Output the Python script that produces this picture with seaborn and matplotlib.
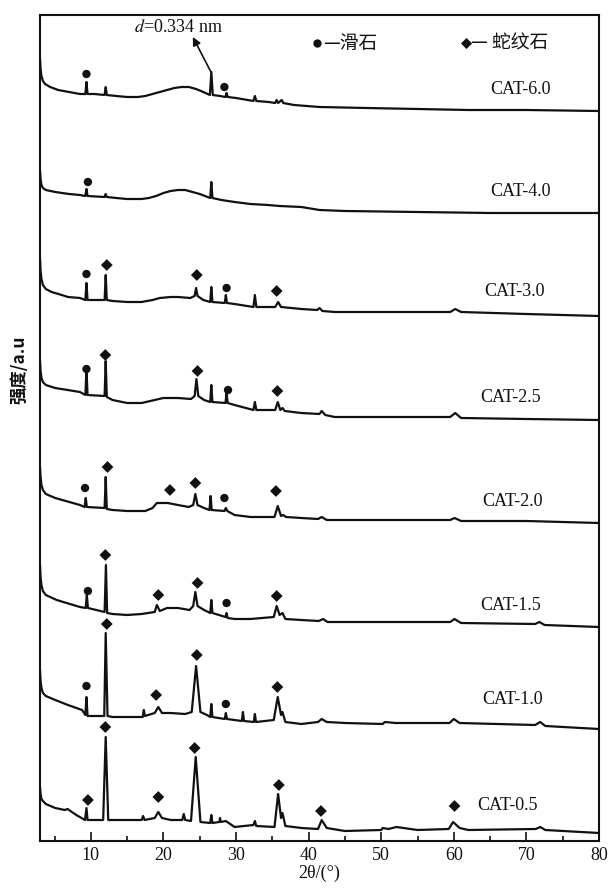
import matplotlib
matplotlib.use("Agg")
import matplotlib.pyplot as plt
import pandas as pd
import seaborn as sns

# ---------------------------------------------------------------------------
# XRD patterns (2θ in degrees, stacked intensity in a.u.)
# ---------------------------------------------------------------------------
samples = ["CAT-6.0", "CAT-4.0", "CAT-3.0", "CAT-2.5",
           "CAT-2.0", "CAT-1.5", "CAT-1.0", "CAT-0.5"]

pat_60 = [(3.0, 783), (3.08, 772), (3.2, 765), (3.4, 760), (3.7, 757), (4.4, 754),
          (5.5, 751), (7.0, 749), (8.5, 747), (9.25, 747), (9.4, 759), (9.55, 747),
          (10.5, 747), (11.9, 746), (12.05, 754), (12.2, 746), (13.5, 745), (15.0, 744),
          (16.5, 744), (17.5, 745), (18.5, 747), (19.5, 749), (20.5, 751), (21.5, 753),
          (22.5, 754), (23.5, 754), (24.5, 752), (25.5, 749), (26.4, 746), (26.6, 769),
          (26.8, 746), (27.8, 745), (28.55, 744), (28.7, 748), (28.85, 744), (30.0, 743),
          (32.4, 740), (32.6, 745), (32.8, 740), (34.5, 739), (35.4, 738), (35.6, 741),
          (35.8, 738), (36.3, 741), (36.5, 738), (38.0, 736), (41.5, 734), (48.0, 733),
          (55.0, 732), (62.0, 731), (70.0, 731), (80.0, 730)]

pat_40 = [(3.0, 671), (3.08, 662), (3.2, 656), (3.4, 653), (3.8, 651), (5.1, 649),
          (7.0, 647), (8.5, 646), (9.25, 645), (9.4, 652), (9.55, 645), (11.9, 644),
          (12.05, 647), (12.2, 644), (13.5, 643), (15.0, 642), (17.0, 642), (18.0, 643),
          (19.0, 645), (20.0, 648), (21.0, 650), (22.0, 651), (23.0, 651), (24.0, 649),
          (25.0, 647), (26.45, 643), (26.6, 659), (26.75, 643), (28.0, 641), (29.8, 639),
          (32.0, 637), (34.4, 636), (36.0, 635), (39.0, 634), (41.5, 631), (45.0, 630),
          (55.0, 629), (65.0, 628), (80.0, 628)]

pat_30 = [(3.0, 583), (3.08, 570), (3.2, 562), (3.4, 556), (3.8, 552), (4.6, 549),
          (6.0, 546), (6.85, 544), (8.5, 543), (9.25, 541), (9.4, 558), (9.55, 541),
          (11.9, 541), (12.05, 566), (12.2, 541), (13.0, 540), (15.0, 539), (17.0, 539),
          (18.5, 541), (19.5, 543), (21.0, 544), (22.0, 544), (23.7, 543), (24.3, 545),
          (24.5, 553), (24.7, 545), (25.5, 541), (26.45, 539), (26.6, 554), (26.75, 539),
          (28.45, 538), (28.6, 546), (28.75, 538), (29.8, 537), (32.4, 534), (32.6, 546),
          (32.8, 534), (35.4, 534), (35.8, 539), (36.2, 534), (39.0, 532), (41.2, 531),
          (41.5, 533), (41.9, 530), (43.6, 529), (50.0, 529), (59.5, 529), (60.2, 532),
          (61.0, 529), (70.0, 527), (80.0, 525)]

pat_25 = [(3.0, 481), (3.08, 470), (3.2, 463), (3.4, 459), (3.8, 456), (5.1, 453),
          (8.5, 449), (9.25, 446), (9.4, 472), (9.55, 446), (11.9, 445), (12.05, 480),
          (12.2, 444), (13.0, 441), (15.0, 438), (17.0, 438), (18.8, 441), (20.0, 443),
          (22.0, 443), (23.8, 442), (24.3, 445), (24.55, 462), (24.8, 445), (25.6, 441),
          (26.45, 439), (26.6, 456), (26.75, 439), (28.55, 438), (28.7, 448), (28.85, 438),
          (29.8, 436), (32.4, 431), (32.6, 439), (32.8, 431), (35.4, 431), (35.75, 439),
          (36.1, 431), (36.4, 433), (36.7, 430), (39.0, 428), (41.5, 427), (41.8, 430),
          (42.3, 426), (43.6, 424), (50.0, 424), (59.5, 424), (60.2, 428), (61.0, 423),
          (70.0, 422), (80.0, 421)]

pat_20 = [(3.0, 374), (3.08, 364), (3.2, 356), (3.4, 351), (3.8, 347), (5.1, 343),
          (8.5, 336), (9.15, 334), (9.3, 343), (9.45, 334), (11.9, 333), (12.05, 364),
          (12.2, 332), (13.0, 331), (15.0, 330), (17.5, 330), (18.5, 333), (19.1, 338),
          (20.6, 338), (22.0, 336), (23.5, 334), (24.1, 336), (24.4, 347), (24.7, 336),
          (25.6, 333), (26.35, 331), (26.5, 345), (26.65, 331), (28.4, 330), (28.6, 333),
          (28.8, 330), (29.8, 326), (32.0, 324), (35.3, 324), (35.75, 335), (36.2, 325),
          (36.5, 326), (36.9, 324), (39.0, 323), (41.3, 322), (41.8, 324), (42.5, 321),
          (45.0, 321), (52.0, 321), (59.5, 321), (60.1, 323), (61.0, 320), (70.0, 320),
          (80.0, 318)]

pat_15 = [(3.0, 276), (3.08, 264), (3.2, 256), (3.4, 250), (3.8, 246), (5.3, 241),
          (8.5, 234), (9.3, 233), (9.45, 246), (9.6, 233), (11.9, 229), (12.08, 276),
          (12.25, 228), (13.0, 227), (15.0, 226), (17.0, 227), (18.8, 229), (19.1, 236),
          (19.5, 230), (20.5, 233), (22.0, 233), (23.6, 231), (24.1, 235), (24.4, 249),
          (24.7, 235), (25.6, 231), (26.45, 228), (26.6, 241), (26.75, 228), (28.55, 224),
          (28.7, 228), (28.85, 223), (29.8, 222), (32.0, 222), (35.2, 224), (35.6, 235),
          (36.0, 226), (36.4, 228), (36.8, 222), (39.0, 221), (41.4, 220), (42.0, 222),
          (42.6, 219), (45.0, 219), (52.5, 219), (59.5, 219), (60.1, 222), (61.0, 218),
          (71.2, 217), (71.8, 219), (72.5, 216), (80.0, 214)]

pat_10 = [(3.0, 171), (3.08, 160), (3.2, 153), (3.4, 148), (3.8, 145), (5.1, 141),
          (6.85, 136), (8.8, 131), (9.25, 126), (9.4, 144), (9.55, 125), (11.85, 125),
          (12.05, 208), (12.3, 125), (13.0, 124), (16.0, 124), (17.15, 124), (17.3, 131),
          (17.45, 125), (18.8, 128), (19.3, 134), (19.8, 128), (21.0, 128), (23.0, 127),
          (23.9, 129), (24.5, 175), (25.1, 129), (26.0, 126), (26.45, 124), (26.6, 137),
          (26.75, 124), (28.45, 122), (28.6, 128), (28.75, 122), (30.8, 120), (30.95, 129),
          (31.1, 120), (32.45, 119), (32.6, 127), (32.75, 119), (35.2, 121), (35.75, 144),
          (36.2, 126), (36.4, 129), (36.8, 119), (39.0, 117), (41.3, 119), (41.8, 122),
          (42.5, 119), (45.0, 118), (50.2, 117), (50.5, 119), (52.0, 118), (55.0, 118),
          (59.4, 118), (60.0, 122), (60.8, 118), (71.2, 116), (71.9, 119), (72.6, 115),
          (80.0, 112)]

pat_05 = [(3.0, 54), (3.08, 47), (3.2, 42), (3.4, 40), (3.8, 37), (5.1, 33), (6.4, 31),
          (6.8, 32), (8.0, 26), (9.2, 21), (9.4, 33), (9.55, 21), (11.7, 21), (12.05, 104),
          (12.4, 21), (13.5, 21), (17.0, 21), (17.2, 25), (17.4, 21), (18.8, 23), (19.3, 29),
          (19.8, 23), (21.0, 21), (22.6, 21), (22.8, 27), (23.0, 21), (23.8, 20), (24.45, 84),
          (25.1, 19), (26.45, 18), (26.6, 26), (26.75, 18), (27.7, 19), (27.8, 23), (27.9, 19),
          (28.6, 20), (29.8, 14), (32.4, 16), (32.6, 20), (32.8, 15), (35.3, 14), (35.8, 47),
          (36.2, 23), (36.4, 28), (36.8, 15), (39.0, 13), (41.3, 12), (41.8, 21), (42.5, 13),
          (45.0, 10), (50.0, 11), (50.2, 13), (51.0, 12), (52.1, 14), (55.0, 11), (59.3, 12),
          (59.9, 19), (60.8, 13), (62.0, 11), (71.3, 12), (71.9, 14), (72.6, 11), (80.0, 8)]

patterns = [pat_60, pat_40, pat_30, pat_25, pat_20, pat_15, pat_10, pat_05]

# Phase assignments: (2θ, marker height) for talc (滑石) and serpentine (蛇纹石)
talc_marks = {
    "CAT-6.0": [(9.4, 767), (28.4, 754)],
    "CAT-4.0": [(9.6, 659)],
    "CAT-3.0": [(9.4, 567), (28.7, 553)],
    "CAT-2.5": [(9.4, 472), (28.9, 451)],
    "CAT-2.0": [(9.2, 353), (28.4, 343)],
    "CAT-1.5": [(9.6, 250), (28.7, 238)],
    "CAT-1.0": [(9.4, 155), (28.6, 137)],
}
serp_marks = {
    "CAT-3.0": [(12.2, 576), (24.6, 566), (35.6, 550)],
    "CAT-2.5": [(12.0, 486), (24.7, 470), (35.7, 450)],
    "CAT-2.0": [(12.3, 374), (20.9, 351), (24.4, 358), (35.5, 350)],
    "CAT-1.5": [(12.0, 286), (19.3, 246), (24.7, 258), (35.6, 245)],
    "CAT-1.0": [(12.2, 217), (19.0, 146), (24.6, 186), (35.7, 154)],
    "CAT-0.5": [(9.6, 41), (12.0, 114), (19.3, 44), (24.3, 93), (35.9, 56),
                (41.7, 30), (60.1, 35)],
}
phase_names = ["滑石", "蛇纹石"]

x_ticks = [10, 20, 30, 40, 50, 60, 70, 80]

# ---------------------------------------------------------------------------
# Long-form tables
# ---------------------------------------------------------------------------
rows = []
for name, pat in zip(samples, patterns):
    for t, v in pat:
        rows.append((name, t, v))
df = pd.DataFrame(rows, columns=["sample", "two_theta", "intensity"])

mrows = []
for phase, marks in zip(phase_names, [talc_marks, serp_marks]):
    for name, pts in marks.items():
        for t, v in pts:
            mrows.append((name, phase, t, v))
mk = pd.DataFrame(mrows, columns=["sample", "phase", "two_theta", "intensity"])

# ---------------------------------------------------------------------------
# Figure
# ---------------------------------------------------------------------------
sns.set_theme(style="ticks")
plt.rcParams["font.family"] = ["Liberation Serif", "Noto Sans CJK SC", "DejaVu Sans"]
plt.rcParams["mathtext.fontset"] = "stix"

cjk = ["Noto Sans CJK SC", "DejaVu Sans"]
ink = "#111111"

fig = plt.figure(figsize=(6.09, 8.91), dpi=100)
ax = fig.add_axes([40 / 609, 50 / 891, 559 / 609, 826 / 891])

sns.lineplot(data=df, x="two_theta", y="intensity", units="sample",
             estimator=None, sort=False, color=ink, lw=1.6, ax=ax, legend=False)

sns.scatterplot(data=mk, x="two_theta", y="intensity", style="phase",
                markers={"滑石": "o", "蛇纹石": "D"}, color=ink,
                s=36, linewidth=0, ax=ax, legend=False)

# sample names
label_pos = {"CAT-6.0": (69.2, 751), "CAT-4.0": (69.2, 649), "CAT-3.0": (68.3, 549),
             "CAT-2.5": (67.8, 444), "CAT-2.0": (68.1, 339), "CAT-1.5": (67.8, 236),
             "CAT-1.0": (68.1, 141), "CAT-0.5": (67.4, 36)}
for name in samples:
    x, y = label_pos[name]
    ax.text(x, y, name, ha="center", va="center", fontsize=13,
            family="Liberation Serif", color=ink)

# phase key
ax.scatter([41.2], [798], marker="o", s=36, color=ink, linewidth=0)
ax.text(42.0, 798, "—滑石", ha="left", va="center", fontsize=13.5, family=cjk, color=ink)
ax.scatter([61.7], [798], marker="D", s=32, color=ink, linewidth=0)
ax.text(62.4, 798, "— 蛇纹石", ha="left", va="center", fontsize=13.5, family=cjk, color=ink)

# quartz reflection
ax.annotate("", xy=(24.05, 804), xytext=(26.55, 769),
            arrowprops=dict(arrowstyle="-|>", color=ink, lw=1.2,
                            shrinkA=0, shrinkB=0, mutation_scale=12))
ax.text(22.0, 814, r"$d$=0.334 nm", ha="center", va="center", fontsize=13, color=ink)

ax.set_xlim(3, 80)
ax.set_ylim(0, 826)
ax.set_xticks(x_ticks)
ax.set_xticks([5, 15, 25, 35, 45, 55, 65, 75], minor=True)
ax.set_xticklabels([str(v) for v in x_ticks])
ax.set_yticks([])
ax.tick_params(axis="x", which="major", direction="in", length=6.5, width=1.2,
               labelsize=13, pad=4, colors=ink)
ax.tick_params(axis="x", which="minor", direction="in", length=3.5, width=1.2, colors=ink)
for sp in ax.spines.values():
    sp.set_visible(True)
    sp.set_linewidth(1.5)
    sp.set_color(ink)

ax.set_xlabel("2θ/(°)", fontsize=13, labelpad=1, color=ink)
ax.set_ylabel("")
fig.text(19 / 609, 1 - 370 / 891, "强度/a.u", rotation=90, ha="center", va="center",
         fontsize=12.5, family=cjk, fontweight="bold", color=ink)

fig.savefig("out.png", dpi=100)
